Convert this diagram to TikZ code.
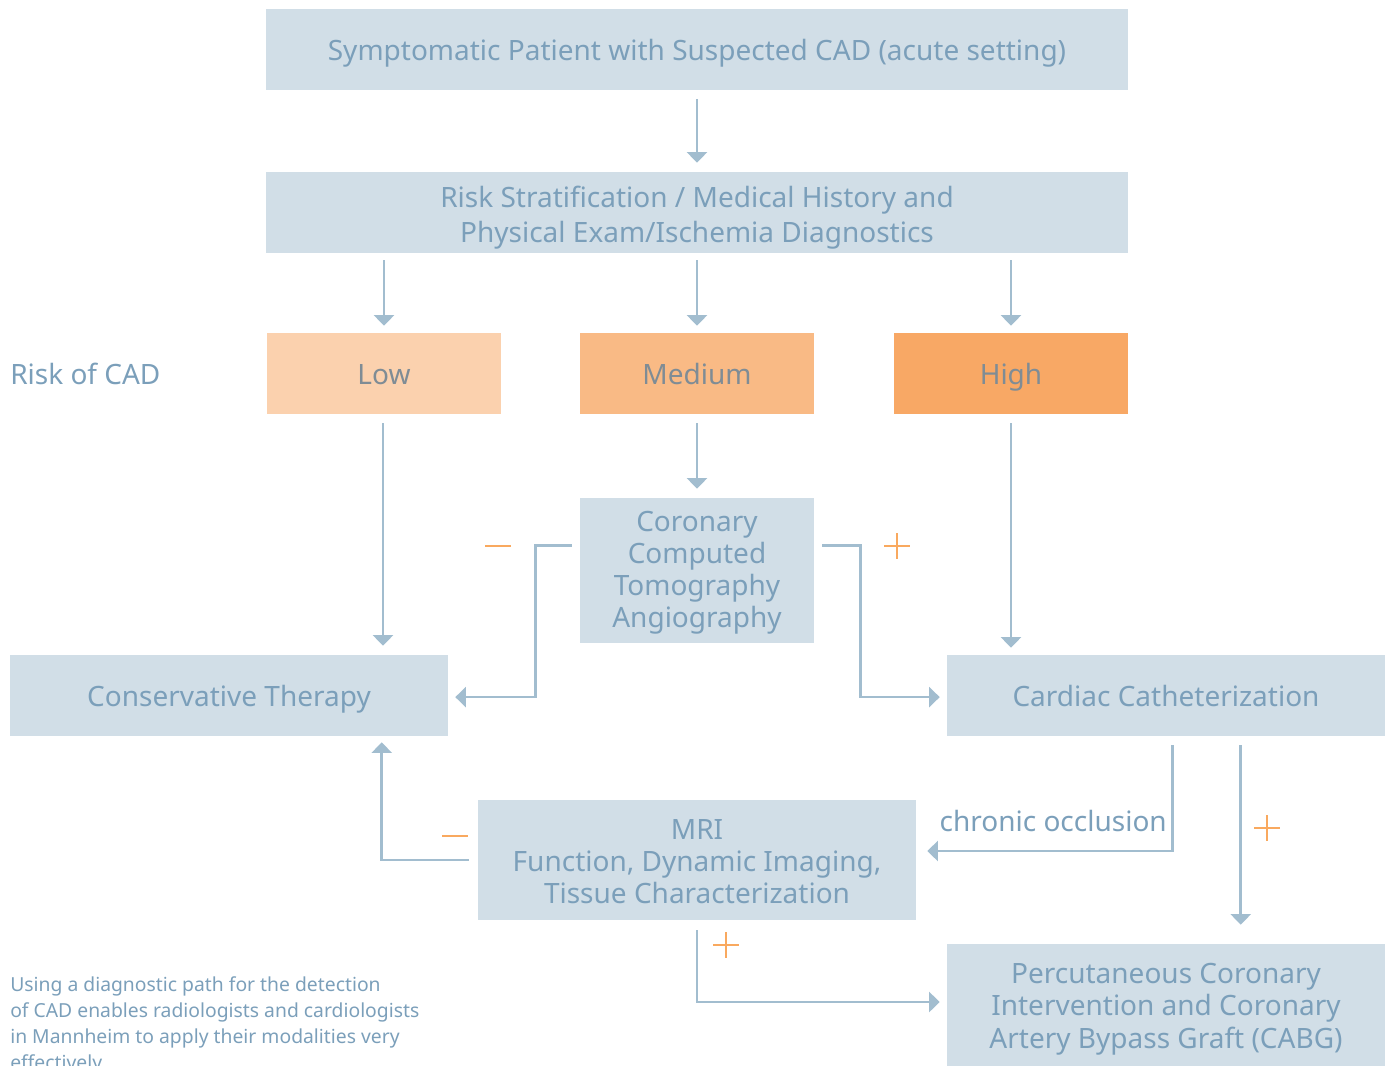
\documentclass[tikz,border=0pt]{standalone}
\usepackage{fontspec}
\setmainfont{Noto Sans}
\usetikzlibrary{arrows.meta,calc}
\definecolor{boxfill}{HTML}{D1DEE7}
\definecolor{txt}{HTML}{7B9FBA}
\definecolor{lin}{HTML}{A2BDCF}
\definecolor{lowc}{HTML}{FBD1AE}
\definecolor{medc}{HTML}{F9BA85}
\definecolor{highc}{HTML}{F8A865}
\definecolor{otxt}{HTML}{7F8C95}
\definecolor{signc}{HTML}{F9A95F}
\newcommand\mlines[1]{\begin{tabular}[t]{@{}c@{}}#1\end{tabular}}
\tikzset{
  x=0.75pt,y=-0.75pt,
  box/.style={fill=boxfill,text=txt,inner sep=0pt,
    font=\fontsize{21}{24}\selectfont},
  onebox/.style={box,text height=16.5pt,text depth=0pt},
  riskbox/.style={inner sep=0pt,text=otxt,minimum width=175.5pt,minimum height=60.75pt,
    text height=16.5pt,text depth=0pt,font=\fontsize{21}{24}\selectfont},
  arr/.style={draw=lin,line width=2pt,-{Triangle[width=15pt,length=8pt]}},
  sign/.style={draw=signc,line width=1.8pt},
}
\begin{document}
\begin{tikzpicture}
\useasboundingbox (0,0) rectangle (1391,1065);
% boxes
\node[onebox,minimum width=646.5pt,minimum height=60.75pt] (top) at (697,49) {Symptomatic Patient with Suspected CAD (acute setting)};
\node[box,minimum width=646.5pt,minimum height=60.75pt,text height=0pt,text depth=8.25pt,font=\fontsize{21}{26.25}\selectfont] (risk) at (697,212.5) {\mlines{Risk Stratification / Medical History and\\Physical Exam/Ischemia Diagnostics}};
\node[riskbox,fill=lowc] (low) at (384,373.5) {Low};
\node[riskbox,fill=medc] (med) at (697,373.5) {Medium};
\node[riskbox,fill=highc] (high) at (1011,373.5) {High};
\node[box,minimum width=175.5pt,minimum height=108.75pt,text height=0pt,text depth=59.25pt] (ccta) at (697,570.5) {\mlines{Coronary\\Computed\\Tomography\\Angiography}};
\node[onebox,minimum width=328.5pt,minimum height=60.75pt] (cons) at (229,695.5) {Conservative Therapy};
\node[onebox,minimum width=328.5pt,minimum height=60.75pt] (card) at (1166,695.5) {Cardiac Catheterization};
\node[box,minimum width=328.5pt,minimum height=90pt,text height=0pt,text depth=31.5pt] (mri) at (697,860) {\mlines{MRI\\Function, Dynamic Imaging,\\Tissue Characterization}};
\node[box,minimum width=328.5pt,minimum height=93pt,text height=0pt,text depth=34.5pt,font=\fontsize{21}{24.4}\selectfont] (pci) at (1166,1006) {\mlines{Percutaneous Coronary\\Intervention and Coronary\\Artery Bypass Graft (CABG)}};
% labels
\node[text=txt,inner sep=0pt,anchor=west,text height=16.5pt,text depth=0pt,font=\fontsize{21}{24}\selectfont] (riskof) at (10,373) {Risk of CAD};
\node[text=txt,inner sep=0pt,anchor=north west,align=left,font=\fontsize{14.5}{19.7}\selectfont] (caption) at (10,976) {Using a diagnostic path for the detection\\of CAD enables radiologists and cardiologists\\in Mannheim to apply their modalities very\\effectively.};
% connectors
\draw[arr,shorten <=6.75pt,shorten >=6.75pt] (top.south) -- (risk.north);
\draw[arr,shorten <=5.25pt,shorten >=5.25pt] (risk.south -| low.north) -- (low.north);
\draw[arr,shorten <=5.25pt,shorten >=5.25pt] (risk.south -| med.north) -- (med.north);
\draw[arr,shorten <=5.25pt,shorten >=5.25pt] (risk.south -| high.north) -- (high.north);
\draw[arr,shorten <=6.75pt,shorten >=6.75pt] ([xshift=-0.75pt]low.south) -- ([xshift=-0.75pt]low.south |- cons.north);
\draw[arr,shorten <=6.75pt,shorten >=6.75pt] (med.south) -- (ccta.north);
\draw[arr,shorten <=6.75pt,shorten >=5.25pt] (high.south) -- (high.south |- card.north);
\draw[arr,shorten >=5.25pt] ([shift={(-8,48)}]ccta.north west) -- ++(-36,0) |- ([yshift=-1.2pt]cons.east);
\draw[arr,shorten >=5.25pt] ([shift={(8,48)}]ccta.north east) -- ++(38,0) |- ([yshift=-1.2pt]card.west);
\draw[arr,shorten >=8.25pt] ([shift={(226,9)}]card.south west) |- ([yshift=6.75pt]mri.east);
\node[text=txt,inner sep=0pt,anchor=base east,font=\fontsize{21}{24}\selectfont] (occl) at (1167,831) {chronic occlusion};
\draw[arr,shorten >=14.25pt] ([shift={(294,9)}]card.south west) -- ([shift={(294,0)}]card.south west |- pci.north);
\draw[arr,shorten >=4.5pt] ([xshift=-6.75pt]mri.west) -| ([shift={(372,0)}]cons.south west);
\draw[arr,shorten >=5.25pt] ([yshift=-7.5pt]mri.south) |- ([yshift=3pt]pci.west);
% signs
\draw[sign] (485,546) -- (511,546);
\draw[sign] (884,546) -- (910,546) (897,533) -- (897,559);
\draw[sign] (442,836) -- (468,836);
\draw[sign] (1254,828) -- (1280,828) (1267,815) -- (1267,841);
\draw[sign] (713,945) -- (739,945) (726,932) -- (726,958);
\end{tikzpicture}
\end{document}
